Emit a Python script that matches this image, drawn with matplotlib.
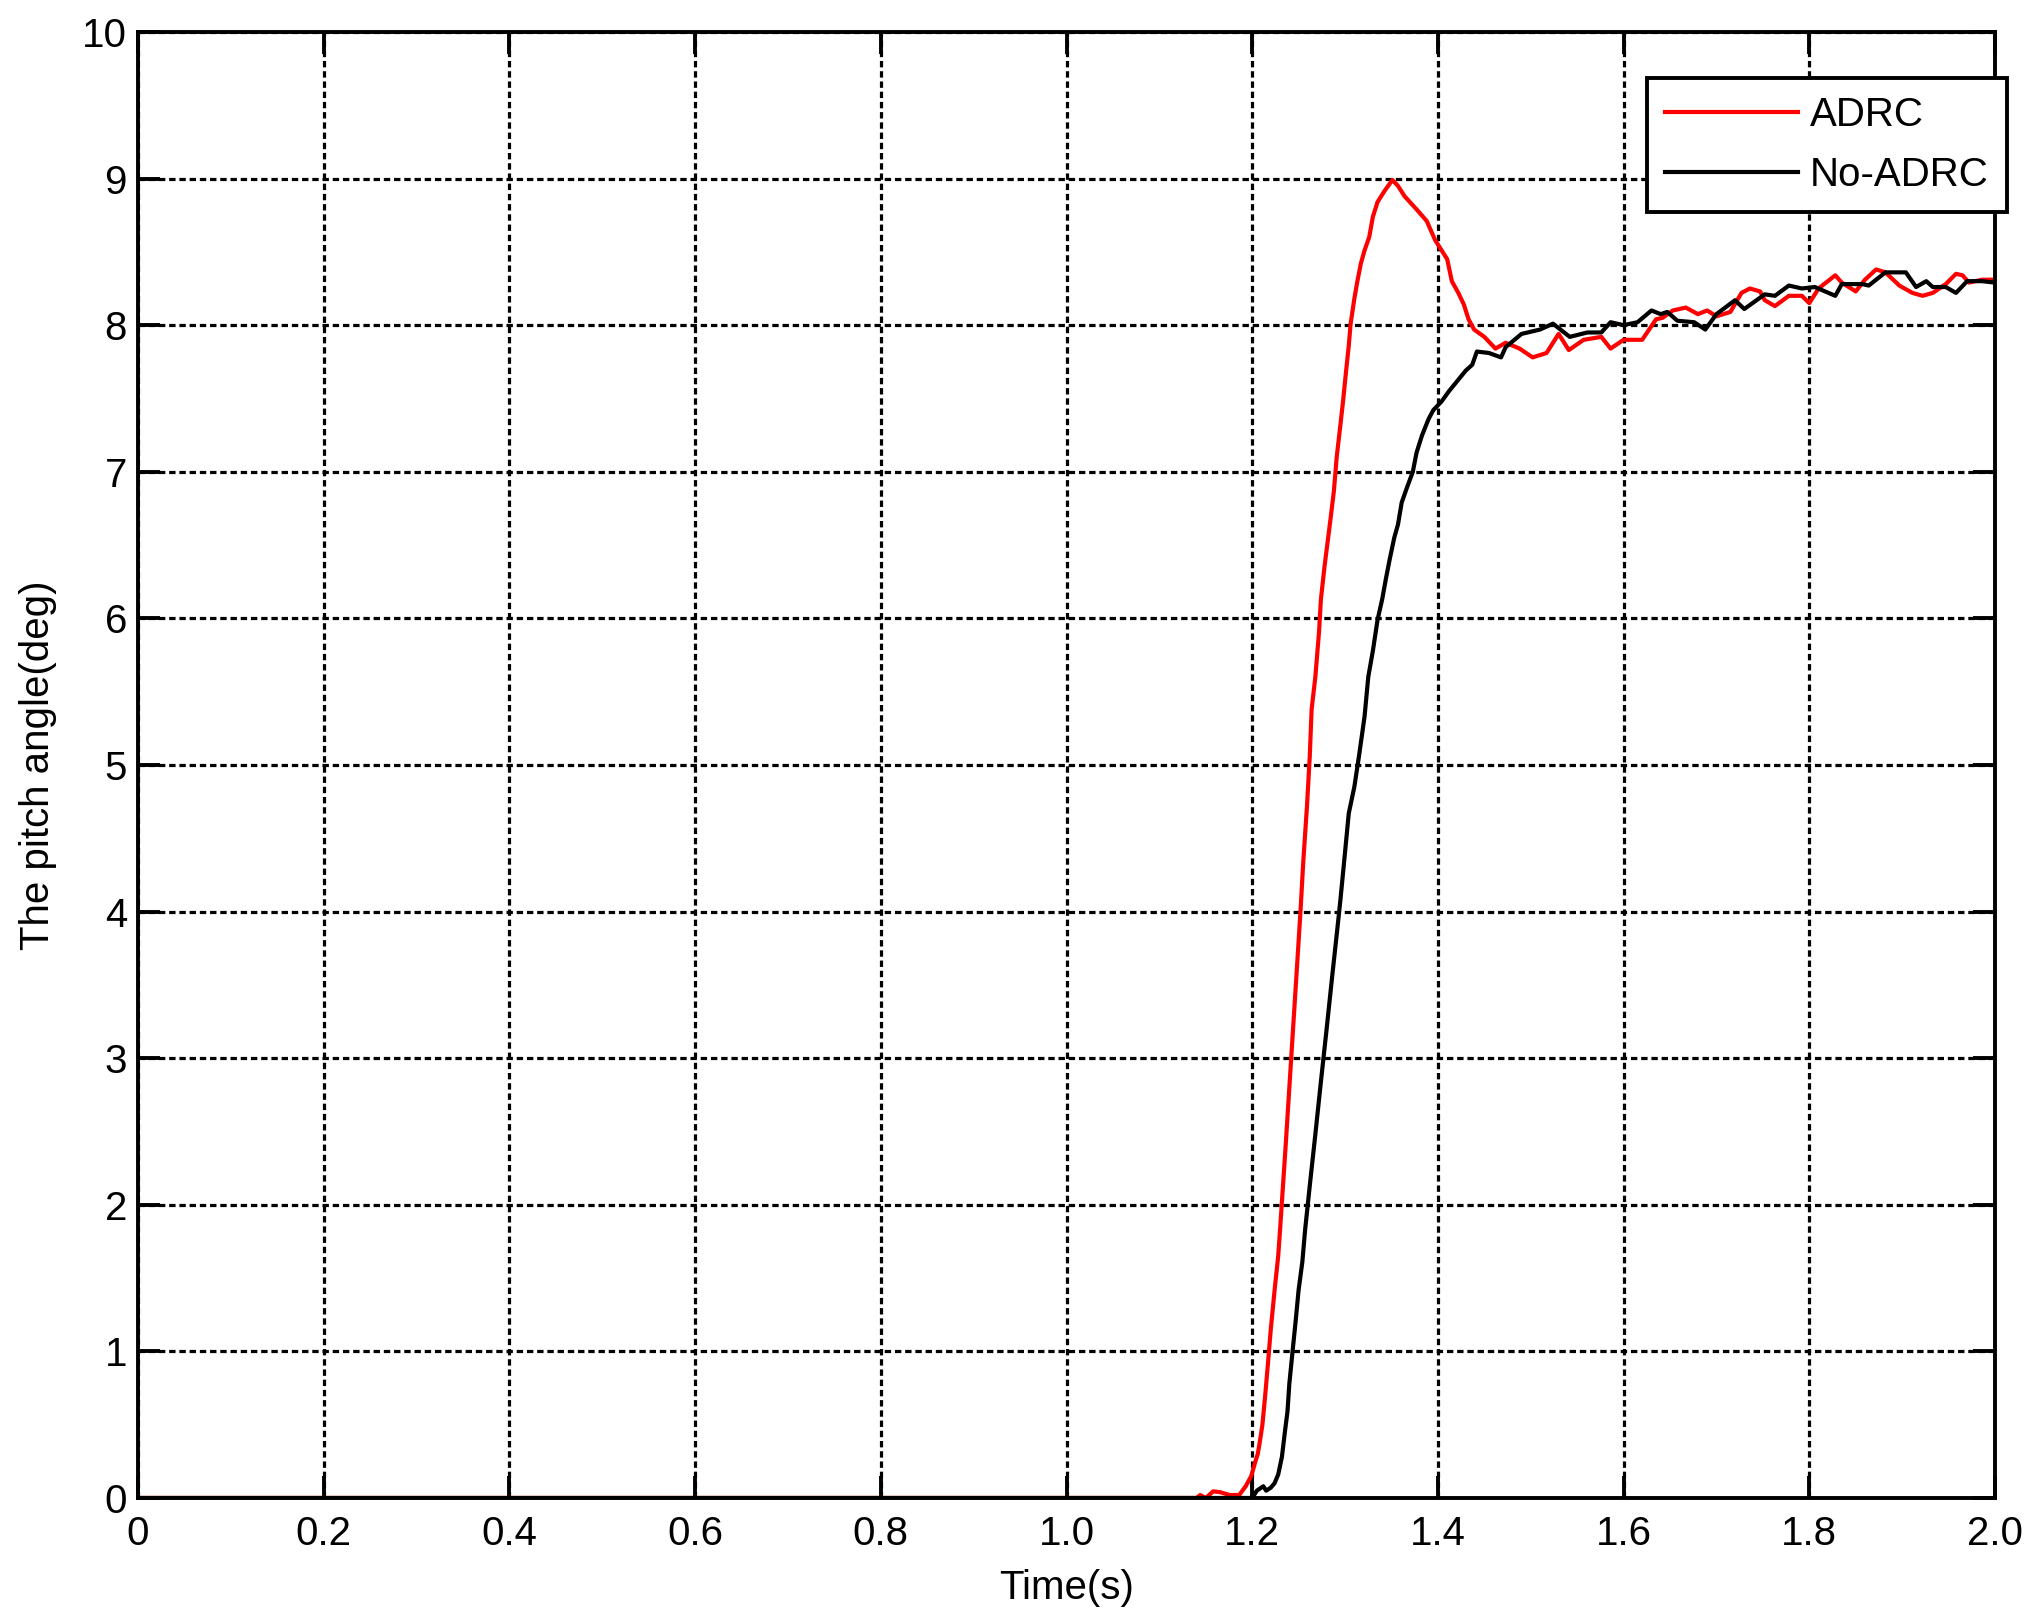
import matplotlib
matplotlib.use('Agg')
import matplotlib.pyplot as plt

plt.rcParams['font.family'] = ['Liberation Sans', 'DejaVu Sans']

# ADRC response (red)
t_adrc = [0, 1.140, 1.144, 1.150, 1.158, 1.165, 1.176, 1.186, 1.193, 1.199,
          1.203, 1.206, 1.208, 1.211, 1.214, 1.217, 1.220, 1.224, 1.228, 1.230,
          1.236, 1.242, 1.247, 1.252, 1.255, 1.259, 1.262, 1.264, 1.268, 1.272,
          1.274, 1.278, 1.284, 1.288, 1.291, 1.295, 1.298, 1.301, 1.304, 1.306,
          1.310, 1.313, 1.317, 1.321, 1.326, 1.330, 1.335, 1.343, 1.351, 1.357,
          1.364, 1.377, 1.388, 1.397, 1.410, 1.415, 1.422, 1.428, 1.433, 1.439,
          1.450, 1.462, 1.473, 1.488, 1.502, 1.517, 1.530, 1.541, 1.557, 1.576,
          1.586, 1.600, 1.620, 1.635, 1.642, 1.653, 1.667, 1.680, 1.690, 1.700,
          1.715, 1.727, 1.736, 1.747, 1.752, 1.763, 1.778, 1.792, 1.800, 1.810,
          1.828, 1.835, 1.850, 1.860, 1.872, 1.882, 1.897, 1.911, 1.922, 1.933,
          1.947, 1.958, 1.965, 1.972, 1.986, 2.0]
y_adrc = [0, 0, 0.02, 0.0, 0.045, 0.04, 0.02, 0.02, 0.08, 0.15,
          0.24, 0.30, 0.375, 0.5, 0.7, 0.92, 1.15, 1.41, 1.65, 1.83,
          2.4, 3.0, 3.5, 4.0, 4.34, 4.72, 5.06, 5.38, 5.60, 5.91,
          6.13, 6.36, 6.66, 6.87, 7.1, 7.32, 7.49, 7.68, 7.86, 8.01,
          8.18, 8.29, 8.42, 8.51, 8.60, 8.74, 8.84, 8.92, 8.99, 8.95,
          8.88, 8.79, 8.71, 8.58, 8.45, 8.30, 8.22, 8.14, 8.04, 7.97,
          7.92, 7.84, 7.88, 7.84, 7.78, 7.81, 7.94, 7.83, 7.90, 7.92,
          7.84, 7.90, 7.90, 8.04, 8.05, 8.10, 8.12, 8.075, 8.10, 8.06,
          8.09, 8.22, 8.25, 8.23, 8.17, 8.13, 8.20, 8.20, 8.15, 8.25,
          8.34, 8.29, 8.23, 8.31, 8.38, 8.36, 8.27, 8.22, 8.20, 8.22,
          8.28, 8.35, 8.34, 8.29, 8.31, 8.31]

# No-ADRC response (black)
t_noadrc = [0, 1.200, 1.205, 1.212, 1.215, 1.220, 1.224, 1.228, 1.232, 1.235,
            1.238, 1.240, 1.243, 1.247, 1.250, 1.254, 1.257, 1.262, 1.268, 1.274,
            1.280, 1.286, 1.292, 1.295, 1.299, 1.304, 1.310, 1.315, 1.321, 1.325,
            1.330, 1.335, 1.340, 1.344, 1.348, 1.353, 1.357, 1.361, 1.366, 1.373,
            1.377, 1.383, 1.390, 1.395, 1.404, 1.412, 1.421, 1.430, 1.437, 1.442,
            1.455, 1.468, 1.473, 1.490, 1.510, 1.524, 1.542, 1.561, 1.576, 1.586,
            1.600, 1.615, 1.630, 1.640, 1.647, 1.658, 1.676, 1.688, 1.700, 1.720,
            1.730, 1.752, 1.763, 1.778, 1.792, 1.806, 1.828, 1.835, 1.857, 1.864,
            1.882, 1.893, 1.904, 1.915, 1.926, 1.933, 1.947, 1.958, 1.970, 1.986,
            2.0]
y_noadrc = [0, 0, 0.05, 0.08, 0.05, 0.07, 0.10, 0.16, 0.28, 0.44,
            0.59, 0.78, 0.97, 1.22, 1.42, 1.61, 1.83, 2.13, 2.48, 2.84,
            3.19, 3.55, 3.9, 4.08, 4.34, 4.67, 4.85, 5.06, 5.33, 5.6,
            5.78, 5.99, 6.13, 6.27, 6.40, 6.55, 6.64, 6.79, 6.88, 7.0,
            7.13, 7.25, 7.36, 7.42, 7.48, 7.55, 7.62, 7.69, 7.73, 7.82,
            7.81, 7.78, 7.85, 7.94, 7.97, 8.01, 7.92, 7.95, 7.95, 8.02,
            8.0, 8.02, 8.1, 8.075, 8.09, 8.03, 8.02, 7.97, 8.075, 8.17,
            8.11, 8.21, 8.2, 8.27, 8.25, 8.26, 8.2, 8.28, 8.28, 8.27,
            8.36, 8.36, 8.36, 8.26, 8.3, 8.26, 8.26, 8.22, 8.3, 8.3,
            8.29]

x_ticks = [0, 0.2, 0.4, 0.6, 0.8, 1.0, 1.2, 1.4, 1.6, 1.8, 2.0]
x_labels = ['0', '0.2', '0.4', '0.6', '0.8', '1.0', '1.2', '1.4', '1.6', '1.8', '2.0']
y_ticks = list(range(0, 11))

fig = plt.figure(figsize=(20.33, 16.21), dpi=100)
ax = fig.add_axes([0.0679, 0.0759, 0.9134, 0.9044])

ax.plot(t_adrc, y_adrc, color='#ff0000', lw=3.0, label='ADRC')
ax.plot(t_noadrc, y_noadrc, color='black', lw=3.0, label='No-ADRC')

ax.set_xlim(0, 2)
ax.set_ylim(0, 10)
ax.set_xticks(x_ticks)
ax.set_xticklabels(x_labels)
ax.set_yticks(y_ticks)

ax.grid(True, color='black', lw=2.3, linestyle=(0, (2.0, 1.2)))
ax.set_axisbelow(True)
for s in ax.spines.values():
    s.set_linewidth(2.8)
ax.tick_params(direction='in', length=16, width=2.8, labelsize=29,
               top=True, right=True)
ax.tick_params(axis='x', pad=12)
ax.tick_params(axis='y', pad=8)

ax.set_xlabel('Time(s)', fontsize=29, labelpad=12)
ax.set_ylabel('The pitch angle(deg)', fontsize=29, labelpad=18)

leg = ax.legend(loc='upper right', bbox_to_anchor=(2007 / 2033, 1 - 78 / 1621),
                bbox_transform=fig.transFigure, borderaxespad=0, fontsize=29,
                fancybox=False, framealpha=1, edgecolor='black',
                handlelength=3.3, handletextpad=0.3, labelspacing=0.55,
                borderpad=0.45)
leg.get_frame().set_linewidth(2.8)
for line in leg.get_lines():
    line.set_linewidth(3.0)

fig.savefig('out.png', dpi=100)
